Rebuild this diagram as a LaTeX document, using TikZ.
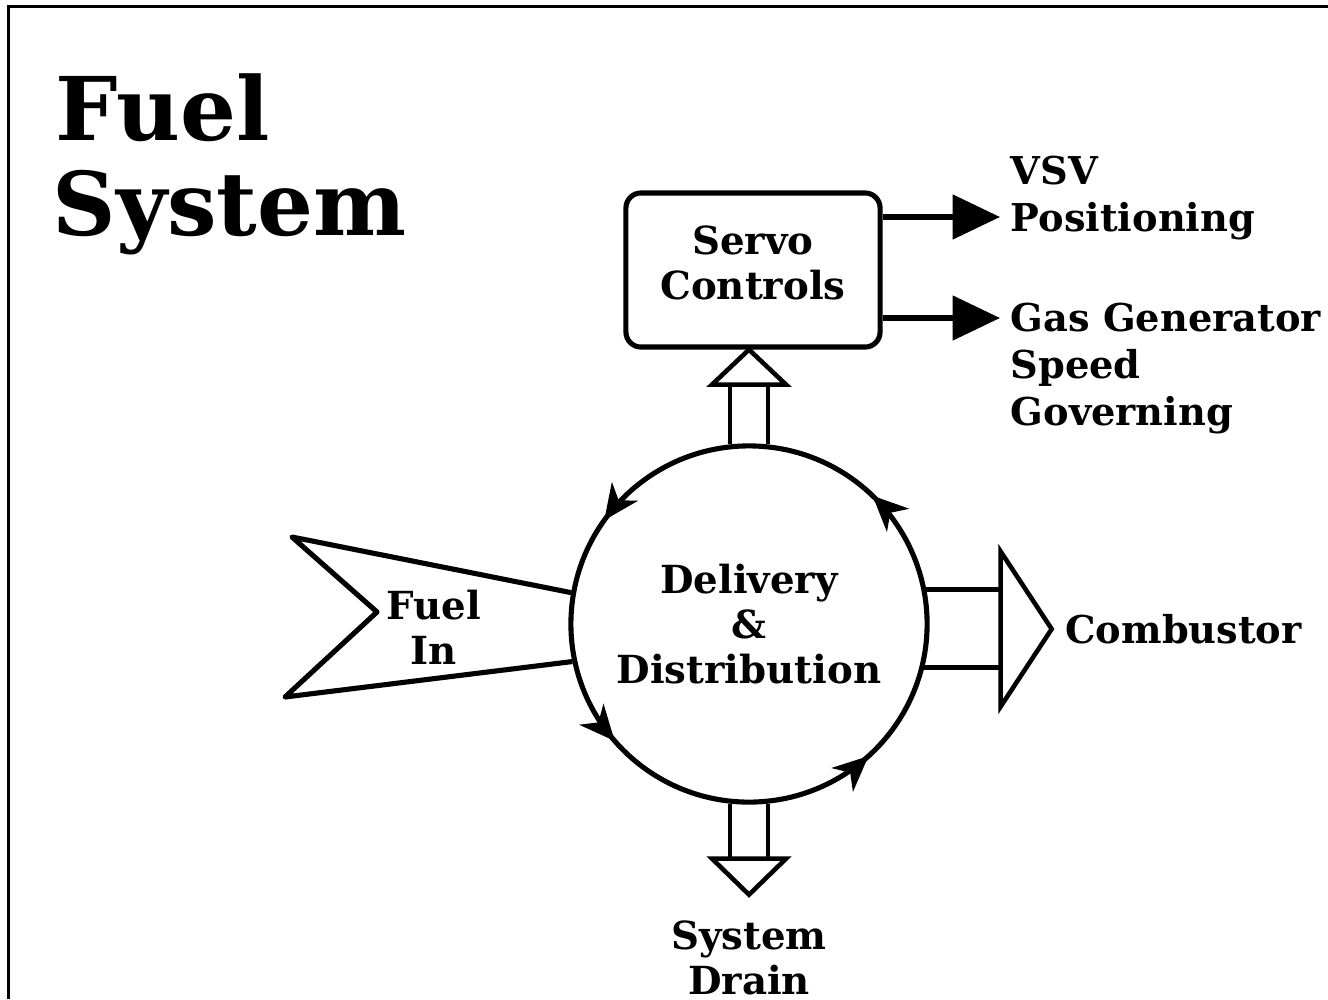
\documentclass[tikz,border=0pt]{standalone}
\usepackage{fontspec}
\setmainfont{DejaVu Serif}
\usetikzlibrary{arrows.meta,calc,decorations.markings,positioning}

\tikzset{
  heavy/.style={line width=1.45pt, line join=round},
  hollow/.style={line width=1.3pt, line join=miter},
  boxtext/.style={font=\fontsize{11}{12.8}\selectfont\bfseries, align=center},
  lbl/.style={font=\fontsize{10.9}{13.4}\selectfont\bfseries, align=left, inner sep=0pt},
  titletext/.style={font=\fontsize{25}{27}\selectfont\bfseries, inner sep=0pt, anchor=base west},
  flowtip/.style={-{Triangle[length=13.5pt,width=12.5pt]}, line width=1.5pt},
  cyclemark/.style={postaction={decorate, decoration={markings,
      mark=at position 0.128 with {\arrow{Stealth[length=10pt,width=9pt,inset=3pt]}},
      mark=at position 0.401 with {\arrow{Stealth[length=10pt,width=9pt,inset=3pt]}},
      mark=at position 0.614 with {\arrow{Stealth[length=10pt,width=9pt,inset=3pt]}},
      mark=at position 0.867 with {\arrow{Stealth[length=10pt,width=9pt,inset=3pt]}}}}},
}

\begin{document}
\begin{tikzpicture}[x=0.01cm,y=0.01cm]
\useasboundingbox (0,0) rectangle (1328,999);
% frame
\draw[line width=0.85pt] (8.5,0) -- (8.5,992.5) -- (1328,992.5);

% title
\node[titletext] (ttl1) at (55,859) {Fuel};
\node[titletext] (ttl2) at (52,764) {System};

% central circle
\node[circle, draw, heavy, minimum size=3.56cm, inner sep=0pt, boxtext, cyclemark] (dd) at (749,375) {Delivery\\\&\\Distribution};

% servo box
\node[draw, heavy, rounded corners=0.15cm, minimum width=2.54cm, minimum height=1.54cm, text depth=4pt, boxtext] (servo) at (753,729) {Servo\\Controls};

% hollow arrow up
\coordinate (upbase) at ($(dd.center |- servo.south)+(0,-35)$);
\coordinate (uptip) at (dd.center |- servo.south);
\draw[hollow] (dd.96) -- (dd.96 |- upbase) (dd.84) -- (dd.84 |- upbase);
\draw[hollow] ($(upbase)+(-37,0)$) -- (uptip) -- ($(upbase)+(37,0)$) -- cycle;

% hollow arrow down
\coordinate (dnbase) at ($(dd.south)+(0,-54)$);
\coordinate (dntip) at ($(dd.south)+(0,-90)$);
\draw[hollow] (dd.264) -- (dd.264 |- dnbase) (dd.276) -- (dd.276 |- dnbase);
\draw[hollow] ($(dnbase)+(-37,0)$) -- (dntip) -- ($(dnbase)+(37,0)$) -- cycle;
\node[boxtext, inner sep=0pt, below=0.25cm of dntip] (drain) {System\\Drain};

% hollow arrow right
\coordinate (rtbase) at ($(dd.east)+(71,-5)$);
\coordinate (rttip) at ($(dd.east)+(122,-5)$);
\draw[hollow] (dd.11) -- (dd.11 -| rtbase) (dd.-14) -- (dd.-14 -| rtbase);
\draw[hollow] ($(rtbase)+(0,77.5)$) -- (rttip) -- ($(rtbase)+(0,-77.5)$) -- cycle;
\node[lbl, right=0.13cm of rttip] (comb) {Combustor};

% fuel in
\coordinate (fin1) at (292,462);
\coordinate (fin2) at (377,387);
\coordinate (fin3) at (285,302);
\draw[heavy] (dd.170) -- (fin1) -- (fin2) -- (fin3) -- (dd.192);
\node[boxtext] (fuelin) at (434,372) {Fuel\\In};

% servo outputs
\coordinate (vsvtip) at (1000,782);
\coordinate (ggtip) at (1000,681);
\draw[flowtip] (servo.east |- vsvtip) -- (vsvtip);
\draw[flowtip] (servo.east |- ggtip) -- (ggtip);
\node[lbl, anchor=north west] (vsv) at (1010,844) {VSV\\Positioning};
\node[lbl, anchor=north west] (ggsg) at (1010,697) {Gas Generator\\Speed\\Governing};
\end{tikzpicture}
\end{document}
